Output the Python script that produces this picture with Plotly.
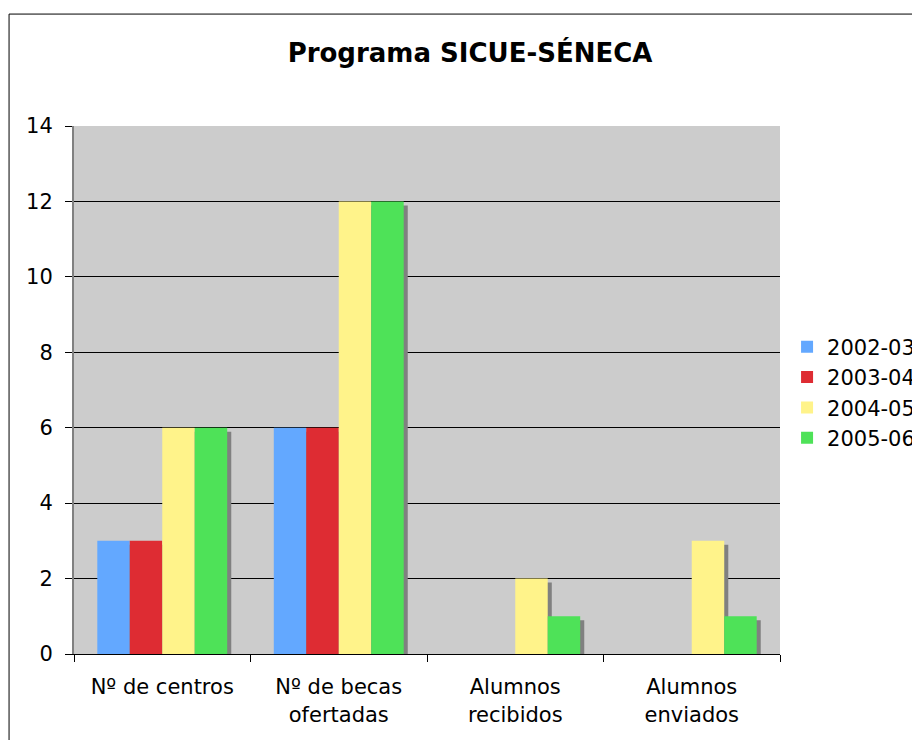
import plotly.graph_objects as go

categorias = ["Nº de centros", "Nº de becas<br>ofertadas", "Alumnos<br>recibidos", "Alumnos<br>enviados"]
cursos = ["2002-03", "2003-04", "2004-05", "2005-06"]
valores_2002 = [3, 6, 0, 0]
valores_2003 = [3, 6, 0, 0]
valores_2004 = [6, 12, 2, 3]
valores_2005 = [6, 12, 1, 1]
y_ticks = [0, 2, 4, 6, 8, 10, 12, 14]

series = [valores_2002, valores_2003, valores_2004, valores_2005]
colores = ["#63A8FF", "#DE2C33", "#FFF38A", "#4EE258"]

FUENTE = "Verdana, DejaVu Sans, sans-serif"
ANCHO = 0.184
INICIO = -0.368
SOMBRA_X = 0.023
SOMBRA_Y = -0.106

fig = go.Figure()

# sombras grises detrás de cada barra
for i, valores in enumerate(series):
    fig.add_trace(go.Bar(
        x=categorias,
        y=valores,
        base=SOMBRA_Y,
        width=ANCHO,
        offset=INICIO + i * ANCHO + SOMBRA_X,
        marker=dict(color="#808080", line=dict(width=0)),
        showlegend=False,
        hoverinfo="skip"
    ))

for i, (curso, valores, color) in enumerate(zip(cursos, series, colores)):
    fig.add_trace(go.Bar(
        x=categorias,
        y=valores,
        name=curso,
        width=ANCHO,
        offset=INICIO + i * ANCHO,
        marker=dict(color=color, line=dict(width=0))
    ))

# la página deja 8px de margen: el lienzo es algo menor que la ventana
fig.update_layout(
    width=912,
    height=732,
    barmode="overlay",
    paper_bgcolor="white",
    plot_bgcolor="#CCCCCC",
    margin=dict(l=66, r=140, t=118, b=86, autoexpand=False),
    font=dict(family=FUENTE, size=21, color="black"),
    title=dict(
        text="<b>Programa SICUE-SÉNECA</b>",
        x=0.5066, xanchor="center",
        y=0.9385, yanchor="middle",
        font=dict(family=FUENTE, size=26, color="black")
    ),
    legend=dict(
        x=1.01, xanchor="left",
        y=0.495, yanchor="middle",
        font=dict(family=FUENTE, size=21),
        bgcolor="rgba(0,0,0,0)",
        tracegroupgap=0
    ),
    shapes=[dict(
        type="rect", xref="paper", yref="paper",
        x0=-0.092, x1=2, y0=-1, y1=1.212,
        line=dict(color="#000000", width=1),
        layer="below"
    )]
)

fig.update_xaxes(
    tickson="boundaries",
    ticks="outside",
    ticklen=7,
    tickcolor="#000000",
    showline=True,
    linecolor="#000000",
    linewidth=1,
    showgrid=False,
    ticklabelstandoff=14,
    range=[-0.5, 3.5]
)

fig.update_yaxes(
    range=[0, 14],
    tickvals=y_ticks,
    ticks="outside",
    ticklen=7,
    tickcolor="#000000",
    showline=True,
    linecolor="#808080",
    linewidth=2,
    showgrid=True,
    gridcolor="#000000",
    gridwidth=1,
    zeroline=False,
    ticklabelstandoff=8
)

fig.write_html("out.html")
